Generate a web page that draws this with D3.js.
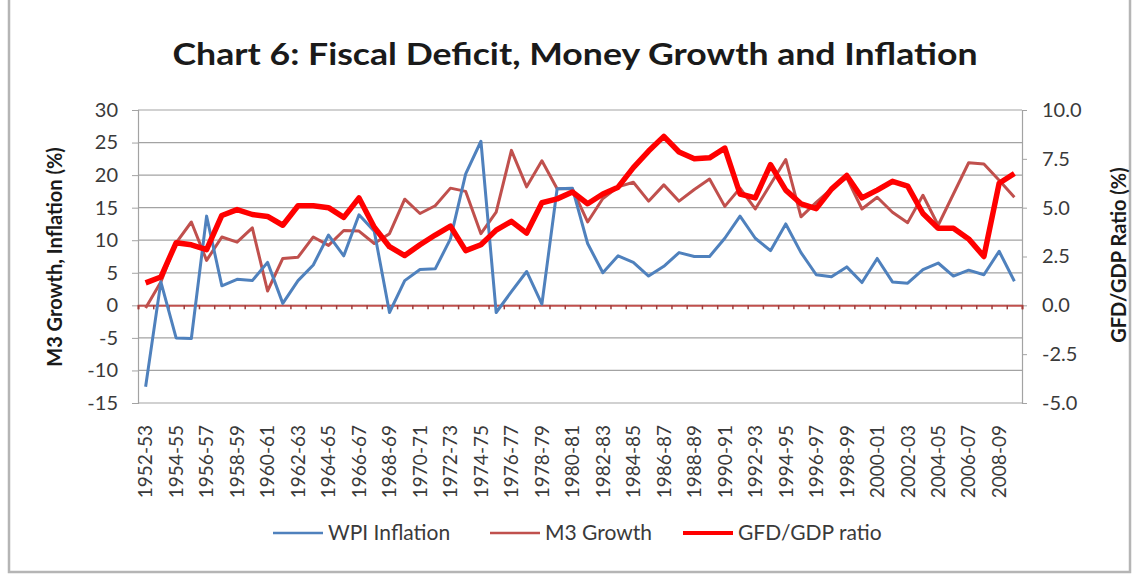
<!DOCTYPE html>
<html>
<head>
<meta charset="utf-8">
<script src="https://cdn.jsdelivr.net/npm/d3@7"></script>
<style>
  html, body { margin: 0; padding: 0; background: #ffffff; }
  svg { display: block; }
  text { font-family: Lato, "Noto Sans", sans-serif; }
</style>
</head>
<body>
<svg id="chart" width="1137" height="586"></svg>
<script>
const categories = ["1952-53","1953-54","1954-55","1955-56","1956-57","1957-58","1958-59","1959-60",
  "1960-61","1961-62","1962-63","1963-64","1964-65","1965-66","1966-67","1967-68","1968-69","1969-70",
  "1970-71","1971-72","1972-73","1973-74","1974-75","1975-76","1976-77","1977-78","1978-79","1979-80",
  "1980-81","1981-82","1982-83","1983-84","1984-85","1985-86","1986-87","1987-88","1988-89","1989-90",
  "1990-91","1991-92","1992-93","1993-94","1994-95","1995-96","1996-97","1997-98","1998-99","1999-00",
  "2000-01","2001-02","2002-03","2003-04","2004-05","2005-06","2006-07","2007-08","2008-09","2009-10"];

const xTickLabels = ["1952-53","1954-55","1956-57","1958-59","1960-61","1962-63","1964-65","1966-67",
  "1968-69","1970-71","1972-73","1974-75","1976-77","1978-79","1980-81","1982-83","1984-85","1986-87",
  "1988-89","1990-91","1992-93","1994-95","1996-97","1998-99","2000-01","2002-03","2004-05","2006-07","2008-09"];

const wpiInflation = [-12.5,3.6,-5.0,-5.1,13.7,3.0,4.0,3.8,6.6,0.3,3.8,6.2,10.8,7.6,13.9,11.4,-1.1,3.8,
  5.5,5.6,10.2,20.2,25.2,-1.1,2.1,5.2,0.2,17.9,18.0,9.5,5.0,7.6,6.6,4.5,6.0,8.1,7.5,7.5,10.3,13.7,10.3,
  8.4,12.5,8.1,4.7,4.4,5.9,3.5,7.2,3.6,3.4,5.5,6.5,4.5,5.4,4.7,8.3,3.7];

const m3Growth = [-0.4,3.6,9.6,12.8,6.9,10.5,9.7,11.9,2.2,7.2,7.4,10.5,9.2,11.5,11.4,9.5,11.0,16.3,
  14.1,15.3,18.0,17.5,11.0,14.3,23.8,18.2,22.2,17.9,17.9,12.8,16.4,18.2,18.9,16.0,18.5,16.0,17.8,19.4,
  15.2,18.0,14.8,18.6,22.4,13.6,15.8,17.9,19.6,14.8,16.6,14.3,12.7,16.9,12.3,17.1,21.9,21.7,19.2,16.6];

const gfdGdpRatio = [1.15,1.45,3.2,3.1,2.85,4.6,4.9,4.65,4.55,4.1,5.1,5.1,5.0,4.5,5.5,4.0,3.0,2.55,
  3.1,3.6,4.05,2.8,3.1,3.85,4.3,3.7,5.25,5.45,5.8,5.2,5.7,6.05,7.05,7.9,8.65,7.85,7.5,7.55,8.05,5.7,
  5.5,7.2,5.9,5.2,4.95,5.95,6.65,5.5,5.9,6.35,6.1,4.7,3.95,3.95,3.4,2.5,6.25,6.75];

const leftTicks = [30,25,20,15,10,5,0,-5,-10,-15];
const rightTicks = [10,7.5,5,2.5,0,-2.5,-5];

const seriesNames = ["WPI Inflation","M3 Growth","GFD/GDP ratio"];
const seriesColors = ["#4F81BD","#C0504D","#FF0000"];

const svg = d3.select("#chart");
const plot = {left: 138, right: 1022, top: 110, bottom: 403};

// outer frame
svg.append("rect").attr("x", 9).attr("y", -2).attr("width", 1121).attr("height", 574)
  .attr("fill", "#ffffff").attr("stroke", "#b5b5b5").attr("stroke-width", 2.5);

const x = d3.scaleBand().domain(categories).range([plot.left, plot.right]);
const xEdge = d3.scaleLinear().domain([0, categories.length]).range([plot.left, plot.right]);
const yL = d3.scaleLinear().domain([-15, 30]).range([plot.bottom, plot.top]);
const yR = d3.scaleLinear().domain([-5, 10]).range([plot.bottom, plot.top]);
const cx = d => x(d) + x.bandwidth() / 2;

// gridlines
svg.append("g").selectAll("line").data(leftTicks).join("line")
  .attr("x1", plot.left).attr("x2", plot.right)
  .attr("y1", d => yL(d)).attr("y2", d => yL(d))
  .attr("stroke", "#a3a3a3").attr("stroke-width", 1.2);

// left axis
const gL = svg.append("g").attr("transform", `translate(${plot.left},0)`)
  .call(d3.axisLeft(yL).tickValues(leftTicks).tickSize(6).tickPadding(14).tickFormat(d => String(d)));
gL.select(".domain").attr("stroke", "#a3a3a3").attr("stroke-width", 1.2);
gL.selectAll(".tick line").attr("stroke", "#a3a3a3");
gL.selectAll("text").attr("font-size", 20).attr("fill", "#3a3a3a").attr("font-family", "Lato");

// right axis
const gR = svg.append("g").attr("transform", `translate(${plot.right},0)`)
  .call(d3.axisRight(yR).tickValues(rightTicks).tickSize(5).tickPadding(15).tickFormat(d => d.toFixed(1)));
gR.select(".domain").attr("stroke", "#a3a3a3").attr("stroke-width", 1.2);
gR.selectAll(".tick line").attr("stroke", "#a3a3a3");
gR.selectAll("text").attr("font-size", 20).attr("fill", "#3a3a3a").attr("font-family", "Lato");

// x category labels
const gX = svg.append("g").attr("transform", `translate(0,${plot.bottom + 14})`)
  .call(d3.axisBottom(x).tickValues(xTickLabels).tickSize(0));
gX.select(".domain").remove();
gX.selectAll("text")
  .attr("transform", "rotate(-90)")
  .attr("text-anchor", "end")
  .attr("x", -8).attr("y", 0).attr("dy", "0.36em")
  .attr("font-size", 19).attr("fill", "#3a3a3a").attr("font-family", "Lato");

// zero axis line (category axis crossing at 0)
const gZ = svg.append("g").attr("transform", `translate(0,${yL(0)})`)
  .call(d3.axisBottom(xEdge).tickValues(d3.range(0, categories.length + 1)).tickSize(4).tickFormat(""));
gZ.select(".domain").attr("stroke", "#C0504D").attr("stroke-width", 2);
gZ.selectAll(".tick line").attr("stroke", "#9b3c3a").attr("stroke-width", 1.5);

// series lines
const lineL = d3.line().x((d, i) => cx(categories[i])).y(d => yL(d));
const lineR = d3.line().x((d, i) => cx(categories[i])).y(d => yR(d));

svg.append("path").datum(m3Growth).attr("d", lineL)
  .attr("fill", "none").attr("stroke", seriesColors[1]).attr("stroke-width", 3).attr("stroke-linejoin", "round");
svg.append("path").datum(wpiInflation).attr("d", lineL)
  .attr("fill", "none").attr("stroke", seriesColors[0]).attr("stroke-width", 3).attr("stroke-linejoin", "round");
svg.append("path").datum(gfdGdpRatio).attr("d", lineR)
  .attr("fill", "none").attr("stroke", seriesColors[2]).attr("stroke-width", 5.5).attr("stroke-linejoin", "round");

// title
svg.append("text").attr("x", 575).attr("y", 65).attr("text-anchor", "middle")
  .attr("font-size", 31).attr("font-weight", "bold").attr("fill", "#1a1a1a")
  .attr("textLength", 805).attr("lengthAdjust", "spacingAndGlyphs")
  .text("Chart 6: Fiscal Deficit, Money Growth and Inflation");

// axis titles
svg.append("text").attr("transform", "translate(62,257) rotate(-90)").attr("text-anchor", "middle")
  .attr("font-size", 20).attr("font-weight", "bold").attr("fill", "#1a1a1a")
  .text("M3 Growth, Inflation (%)");
svg.append("text").attr("transform", "translate(1126,255) rotate(-90)").attr("text-anchor", "middle")
  .attr("font-size", 20).attr("font-weight", "bold").attr("fill", "#1a1a1a")
  .text("GFD/GDP Ratio (%)");

// legend
const legendX = [273, 490, 683];
const legend = svg.append("g");
seriesNames.forEach((name, i) => {
  legend.append("line").attr("x1", legendX[i]).attr("x2", legendX[i] + 50)
    .attr("y1", 533).attr("y2", 533)
    .attr("stroke", seriesColors[i]).attr("stroke-width", i === 2 ? 4 : 2.6);
  legend.append("text").attr("x", legendX[i] + 55).attr("y", 533).attr("dy", "0.35em")
    .attr("font-size", 21).attr("fill", "#3a3a3a").text(name);
});
</script>
</body>
</html>
